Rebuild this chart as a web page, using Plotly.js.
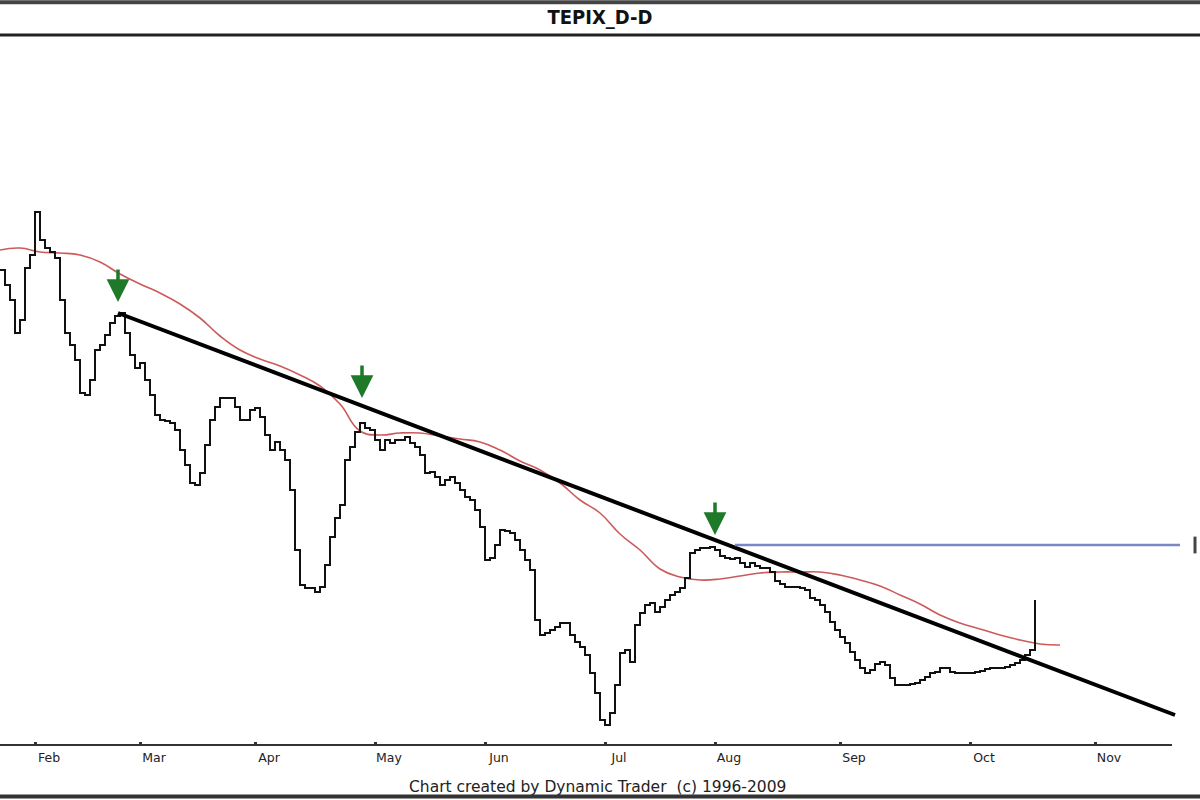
<!DOCTYPE html>
<html>
<head>
<meta charset="utf-8">
<script src="https://cdn.plot.ly/plotly-3.0.1.min.js"></script>
<style>html,body{margin:0;padding:0;background:#fff;}#chart{width:1200px;height:800px;}</style>
</head>
<body>
<div id="chart"></div>
<script>
// ---- data (x = trading-day index, y = index level) ----
const priceDays = Array.from({length: 208}, (_, i) => i);
const priceValues = [
 8650,8575,8500,8335,8400,8660,8725,8940,8800,8760,
 8740,8710,8500,8335,8275,8200,8035,8025,8100,8250,
 8275,8325,8385,8420,8435,8335,8225,8160,8185,8100,
 8025,7925,7900,7895,7885,7850,7750,7675,7585,7575,
 7635,7775,7900,7965,8010,8010,8010,7965,7900,7900,
 7950,7960,7915,7825,7750,7790,7750,7700,7550,7250,
 7075,7060,7060,7040,7065,7175,7315,7410,7475,7700,
 7765,7840,7885,7860,7850,7800,7750,7800,7785,7800,
 7800,7815,7785,7765,7725,7635,7640,7615,7575,7600,
 7615,7585,7550,7515,7500,7450,7365,7200,7210,7275,
 7350,7345,7335,7300,7250,7200,7150,6900,6825,6835,
 6850,6865,6885,6885,6825,6790,6765,6725,6635,6535,
 6400,6375,6435,6575,6735,6750,6690,6875,6935,6975,
 6985,6940,6965,7000,7025,7040,7060,7110,7235,7250,
 7260,7260,7265,7250,7220,7210,7205,7210,7185,7165,
 7185,7170,7160,7160,7140,7095,7080,7065,7065,7065,
 7060,7050,7010,7000,6975,6940,6890,6850,6815,6785,
 6740,6700,6660,6635,6650,6680,6690,6675,6610,6575,
 6575,6575,6580,6585,6600,6615,6635,6640,6660,6660,
 6640,6635,6635,6635,6635,6640,6645,6655,6660,6660,
 6660,6665,6675,6685,6700,6725,6750,7000
];

const maDays = [0,4,8,12,16,20,24,28,32,36,40,44,48,52,56,60,64,68,72,76,80,84,88,92,96,100,
                104,108,112,116,120,124,128,132,136,140,144,148,152,156,160,164,168,172,176,180,
                184,188,192,196,200,204,208,212];
const maValues = [8750,8760,8740,8735,8725,8690,8630,8580,8535,8480,8410,8320,8250,8205,8170,8125,
                  8070,7980,7845,7825,7835,7835,7820,7805,7790,7750,7695,7650,7585,7500,7435,7330,
                  7250,7155,7115,7100,7105,7120,7135,7140,7140,7140,7125,7100,7070,7025,6980,6925,
                  6885,6855,6825,6800,6780,6775];

const trendDays = [23.6, 235];
const trendValues = [8435, 6425];

const resistDays = [147, 236];
const resistValues = [7275, 7275];

const arrowDays = [23.6, 72.4, 143];
const arrowValues = [8490, 8010, 7325];

const monthDays = [7, 28, 51, 75, 97, 121, 143, 168, 194, 219];
const monthLabels = ["Feb","Mar","Apr","May","Jun","Jul","Aug","Sep","Oct","Nov"];

const chartTitle = "TEPIX_D-D";
const footerText = "Chart created by Dynamic Trader  (c) 1996-2009";

// ---- traces ----
const traces = [
  {x: maDays, y: maValues, type: 'scatter', mode: 'lines',
   line: {color: '#cc5a5a', width: 1.6, shape: 'spline', smoothing: 1.3}, hoverinfo: 'skip'},
  {x: priceDays, y: priceValues, type: 'scatter', mode: 'lines',
   line: {color: '#111111', width: 2, shape: 'hv'}, hoverinfo: 'skip'},
  {x: trendDays, y: trendValues, type: 'scatter', mode: 'lines',
   line: {color: '#000000', width: 4}, hoverinfo: 'skip'},
  {x: resistDays, y: resistValues, type: 'scatter', mode: 'lines',
   line: {color: '#7a86c6', width: 2.5}, hoverinfo: 'skip'},
  {x: [239], y: [resistValues[0]], type: 'scatter', mode: 'markers',
   marker: {symbol: 'line-ns', size: 12, line: {color: '#444', width: 3}}, hoverinfo: 'skip'}
];

const annotations = arrowDays.map((d, i) => ({
  x: d, y: arrowValues[i], xref: 'x', yref: 'y',
  showarrow: true, ax: 0, ay: -34, text: '',
  arrowhead: 2, arrowsize: 1.3, arrowwidth: 3.5, arrowcolor: '#1e7a28'
}));
annotations.push({
  text: footerText, xref: 'paper', yref: 'paper', x: 0.498, y: -0.0592,
  xanchor: 'center', yanchor: 'middle', showarrow: false,
  font: {family: 'DejaVu Sans', size: 15.5, color: '#222'}
});

const shapes = [
  // x axis baseline
  {type: 'line', xref: 'x', yref: 'paper', x0: 0, x1: 234.4, y0: 0, y1: 0,
   line: {color: '#333', width: 2}},
  // frame lines
  {type: 'line', xref: 'paper', yref: 'paper', x0: 0, x1: 1, y0: 1.0475, y1: 1.0475,
   line: {color: '#444', width: 4}},
  {type: 'line', xref: 'paper', yref: 'paper', x0: 0, x1: 1, y0: 1.0015, y1: 1.0015,
   line: {color: '#222', width: 3}},
  {type: 'line', xref: 'paper', yref: 'paper', x0: 0, x1: 1, y0: -0.0725, y1: -0.0725,
   line: {color: '#333', width: 4}}
];

const layout = {
  width: 1200, height: 800,
  margin: {l: 0, r: 0, t: 36, b: 55, pad: 0},
  paper_bgcolor: '#ffffff', plot_bgcolor: '#ffffff',
  showlegend: false,
  title: {text: '<b>' + chartTitle + '</b>', x: 0.5, xanchor: 'center',
          y: 0.979, yref: 'container', yanchor: 'middle',
          font: {family: 'DejaVu Sans Condensed, DejaVu Sans', size: 20, color: '#111'}},
  xaxis: {range: [0, 240], showgrid: false, zeroline: false, showline: false,
          tickmode: 'array', tickvals: monthDays, ticktext: monthLabels,
          ticks: 'inside', ticklen: 3, tickwidth: 3, tickcolor: '#333',
          ticklabelshift: 14, ticklabelstandoff: 3,
          tickfont: {family: 'DejaVu Sans', size: 12.5, color: '#222'}, fixedrange: true},
  yaxis: {range: [6275, 9820], showgrid: false, zeroline: false, showline: false,
          showticklabels: false, ticks: '', fixedrange: true},
  shapes: shapes,
  annotations: annotations
};

Plotly.newPlot('chart', traces, layout, {staticPlot: true, displayModeBar: false});
</script>
</body>
</html>
